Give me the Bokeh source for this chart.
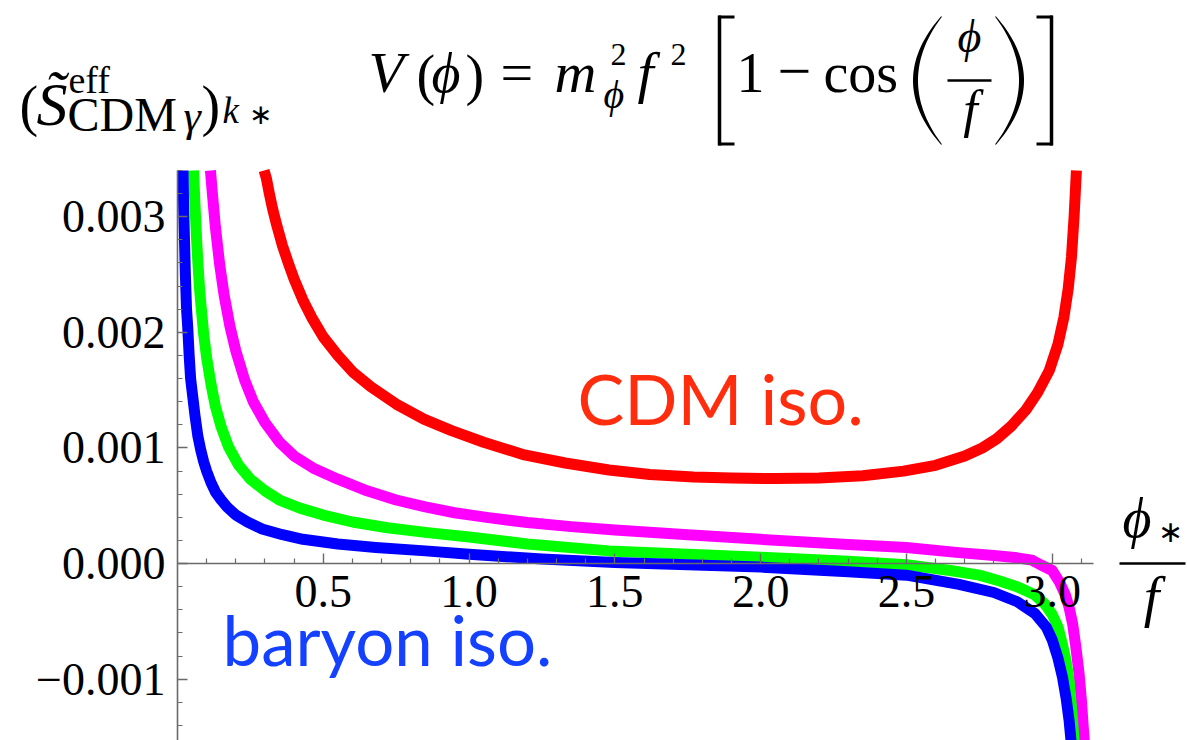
import numpy as np
from bokeh.plotting import figure
from bokeh.models import Range1d, FixedTicker, Label, Arrow, LinearAxis, PolyAnnotation
from bokeh.embed import file_html
from bokeh.resources import INLINE

# ---------------- data ----------------
red_x = [0.297, 0.305, 0.315, 0.326, 0.34, 0.36, 0.38, 0.40, 0.43, 0.46, 0.5, 0.55, 0.6, 0.663, 0.75, 0.845,
         0.94, 1.05, 1.19, 1.33, 1.48, 1.62, 1.77, 1.9, 2.05, 2.2, 2.35, 2.49, 2.6, 2.7, 2.76, 2.81, 2.86,
         2.91, 2.95, 2.99, 3.02, 3.04, 3.055, 3.066, 3.075, 3.083]
red_y = [0.0034, 0.00333, 0.0032, 0.00307, 0.00293, 0.00275, 0.0026, 0.00246, 0.00228, 0.00213, 0.00196,
         0.0018, 0.00166, 0.00153, 0.00138, 0.00125, 0.00115, 0.00105, 0.00094, 0.00087, 0.00081, 0.00077,
         0.00075, 0.00074, 0.000735, 0.00074, 0.00076, 0.0008, 0.00085, 0.00093, 0.001, 0.00108, 0.00119,
         0.00133, 0.00148, 0.00167, 0.0019, 0.00213, 0.00238, 0.00265, 0.003, 0.0034]

magenta_x = [0.113, 0.12, 0.13, 0.145, 0.16, 0.18, 0.2, 0.23, 0.26, 0.3, 0.35, 0.4, 0.47, 0.55, 0.65, 0.75,
             0.85, 0.95, 1.06, 1.2, 1.35, 1.5, 1.75, 2.0, 2.3, 2.5, 2.68, 2.8, 2.88, 2.93, 2.96, 3.0, 3.025,
             3.045, 3.058, 3.07, 3.081, 3.092, 3.1, 3.106, 3.112]
magenta_y = [0.0034, 0.00319, 0.00291, 0.00258, 0.00232, 0.00205, 0.00184, 0.00159, 0.0014, 0.00122,
             0.00105, 0.00093, 0.00082, 0.00073, 0.00063, 0.00055, 0.00049, 0.00044, 0.0004, 0.000355,
             0.00032, 0.00029, 0.00025, 0.00021, 0.000165, 0.00014, 0.000095, 0.00007, 0.00005, 0.00003,
             -0.00001, -0.00006, -0.00016, -0.00027, -0.00038, -0.00052, -0.00072, -0.00095, -0.00118,
             -0.0014, -0.0016]

green_x = [0.055, 0.06, 0.065, 0.07, 0.075, 0.08, 0.09, 0.1, 0.115, 0.13, 0.15, 0.175, 0.21, 0.25, 0.3,
           0.35, 0.42, 0.5, 0.6, 0.72, 0.85, 1.0, 1.2, 1.48, 1.75, 2.0, 2.3, 2.5, 2.65, 2.75, 2.82, 2.88,
           2.94, 2.975, 3.0, 3.02, 3.035, 3.048, 3.058, 3.068, 3.077]
green_y = [0.0034, 0.0031, 0.00283, 0.0026, 0.0024, 0.00225, 0.00198, 0.00178, 0.00155, 0.00136, 0.00118,
           0.00101, 0.00085, 0.00073, 0.00063, 0.00055, 0.00048, 0.00042, 0.00036, 0.00031, 0.00027,
           0.00023, 0.00017, 0.00011, 0.00008, 0.000055, 0.00002, -0.00001, -0.00006, -0.0001, -0.00015,
           -0.0002, -0.00027, -0.00035, -0.00044, -0.00055, -0.0007, -0.00085, -0.00102, -0.0013, -0.0016]

blue_x = [0.019, 0.021, 0.024, 0.027, 0.031, 0.035, 0.04, 0.045, 0.052, 0.06, 0.07, 0.08, 0.09, 0.1, 0.115,
          0.13, 0.15, 0.17, 0.2, 0.24, 0.29, 0.36, 0.43, 0.55, 0.68, 0.85, 1.0, 1.25, 1.5, 1.75, 2.0, 2.3,
          2.5, 2.68, 2.8, 2.88, 2.94, 2.98, 3.0, 3.02, 3.035, 3.048, 3.058, 3.067]
blue_y = [0.0034, 0.0031, 0.0028, 0.0025, 0.0022, 0.00205, 0.0018, 0.0016, 0.00145, 0.00128, 0.0011,
          0.00098, 0.00088, 0.0008, 0.0007, 0.00062, 0.00055, 0.00049, 0.00042, 0.00036, 0.0003, 0.00025,
          0.00021, 0.00017, 0.00014, 0.00011, 0.00008, 0.00004, 0.00001, -0.00001, -0.00003, -0.00007,
          -0.0001, -0.00018, -0.00025, -0.00033, -0.00043, -0.00055, -0.00066, -0.00082, -0.00098,
          -0.00117, -0.00136, -0.0016]

y_ticks = [-0.001, 0.0, 0.001, 0.002, 0.003]
y_tick_labels = ["\u22120.001", "0.000", "0.001", "0.002", "0.003"]
y_minor_ticks = [-0.0014, -0.0012, -0.0008, -0.0006, -0.0004, -0.0002, 0.0002, 0.0004, 0.0006, 0.0008,
                 0.0012, 0.0014, 0.0016, 0.0018, 0.0022, 0.0024, 0.0026, 0.0028, 0.0032, 0.0034]
x_ticks = [0.5, 1.0, 1.5, 2.0, 2.5, 3.0]
x_tick_labels = ["0.5", "1.0", "1.5", "2.0", "2.5", "3.0"]
x_minor_ticks = [0.1, 0.2, 0.3, 0.4, 0.6, 0.7, 0.8, 0.9, 1.1, 1.2, 1.3, 1.4, 1.6, 1.7, 1.8, 1.9,
                 2.1, 2.2, 2.3, 2.4, 2.6, 2.7, 2.8, 2.9, 3.1]

series = [("red", red_x, red_y, "#ff0000"),
          ("magenta", magenta_x, magenta_y, "#ff00ff"),
          ("green", green_x, green_y, "#00ff00"),
          ("blue", blue_x, blue_y, "#0000ff")]

Y_TOP, Y_BOT = 0.0034, -0.00153      # plotted data window
X_LEFT, X_RIGHT = 0.0, np.pi

# ---------------- geometry (canvas pixels) ----------------
W, H = 1187, 740
PX_L, PX_R = 177, 1093                # canvas x of x=0 and x=pi
PX_T = 170                            # canvas y of Y_TOP (bottom of canvas = Y_BOT)
sx_per = (PX_R - PX_L) / (X_RIGHT - X_LEFT)
sy_per = (H - PX_T) / (Y_TOP - Y_BOT)
xr = Range1d(X_LEFT - PX_L / sx_per, X_RIGHT + (W - PX_R) / sx_per)
yr = Range1d(Y_BOT, Y_TOP + PX_T / sy_per)

p = figure(width=W, height=H, x_range=xr, y_range=yr,
           output_backend="svg", toolbar_location=None,
           x_axis_location=None, y_axis_location=None,
           min_border=0, min_border_left=0, min_border_right=0, min_border_top=0, min_border_bottom=0)
p.outline_line_color = None
p.grid.visible = False
p.background_fill_color = "white"
p.border_fill_color = "white"

for name, xs, ys, col in series:
    p.line(xs, ys, line_color=col, line_width=11, line_join="round", line_cap="butt")

AX = "#6a6a6a"
FONT = "Liberation Serif"

yax = LinearAxis(ticker=FixedTicker(ticks=y_ticks, minor_ticks=y_minor_ticks),
                 major_label_overrides=dict(zip(y_ticks, y_tick_labels)),
                 fixed_location=0, bounds=(Y_BOT, Y_TOP))
xax = LinearAxis(ticker=FixedTicker(ticks=x_ticks, minor_ticks=x_minor_ticks),
                 major_label_overrides=dict(zip(x_ticks, x_tick_labels)),
                 fixed_location=0, bounds=(X_LEFT, X_RIGHT))
for ax in (yax, xax):
    ax.axis_line_color = AX
    ax.axis_line_width = 1.6
    ax.major_tick_line_color = AX
    ax.minor_tick_line_color = AX
    ax.major_tick_line_width = 1.4
    ax.minor_tick_line_width = 1.2
    ax.major_tick_in = 10
    ax.major_tick_out = 0
    ax.minor_tick_in = 5
    ax.minor_tick_out = 0
    ax.major_label_text_font = FONT
    ax.major_label_text_font_size = "46px"
    ax.major_label_text_color = "black"
    ax.major_label_standoff = 12
p.add_layout(yax, "left")
p.add_layout(xax, "below")

BASE_FIX = 0.40   # empirical: Label 'alphabetic' baseline offset (fraction of font size)


def put(text, X, Y, size, style="normal", font=FONT, color="black", align="left"):
    p.add_layout(Label(x=X, y=H - (Y - BASE_FIX * size), x_units="screen", y_units="screen", text=text,
                       text_font=font, text_font_size=f"{size}px", text_font_style=style,
                       text_color=color, text_align=align, text_baseline="alphabetic"))


def seg(X0, Y0, X1, Y1, w=2.5):
    p.add_layout(Arrow(x_start=X0, y_start=H - Y0, x_end=X1, y_end=H - Y1,
                       start_units="screen", end_units="screen", end=None,
                       line_width=w, line_color="black"))


def big_paren(x_end, x_bulge, y_top, y_bot, w=5.0):
    """thin, tall delimiter (as in the typeset formula) drawn as a tapered crescent"""
    t = np.linspace(-1.0, 1.0, 41)
    yc, hh = (y_top + y_bot) / 2.0, (y_bot - y_top) / 2.0
    xc = x_end + (x_bulge - x_end) * (1.0 - t ** 2)
    th = 1.2 + (w - 1.2) * (1.0 - t ** 2)
    xs = list(xc - th / 2.0) + list((xc + th / 2.0)[::-1])
    ys = list(H - (yc + hh * t)) + list((H - (yc + hh * t))[::-1])
    p.add_layout(PolyAnnotation(xs=xs, ys=ys, xs_units="screen", ys_units="screen",
                                fill_color="black", fill_alpha=1.0, line_color=None))


# ---- title: V(phi) = m_phi^2 f^2 [1 - cos(phi/f)] ----
put("V", 368, 95, 58, "italic")
put("(", 416, 97, 56)
put("\u03d5", 431, 95, 56, "italic")
put(")", 465, 97, 56)
put("=", 500, 95, 58)
put("m", 554, 95, 58, "italic")
put("\u03d5", 603, 110, 40, "italic")
put("2", 610, 67, 32)
put("f", 637, 95, 58, "italic")
put("2", 670, 67, 32)
seg(719, 15, 719, 145, 3.5)
seg(718, 16.5, 734, 16.5, 3)
seg(718, 143.5, 734, 143.5, 3)
put("1", 736, 95, 56)
put("\u2212", 777, 95, 60)
put("cos", 823, 95, 56)
big_paren(941, 915, 16, 144)
put("\u03d5", 969, 54, 46, "italic", align="center")
seg(947, 80, 991, 80, 2.5)
put("f", 970, 130, 52, "italic", align="center")
big_paren(995, 1021, 16, 144)
seg(1051, 15, 1051, 145, 3.5)
seg(1036, 16.5, 1052, 16.5, 3)
seg(1036, 143.5, 1052, 143.5, 3)

# ---- y label: (S~ eff_CDMgamma)_k* ----
put("(", 19, 128, 56)
put("S\u0303", 36, 128, 62, "italic")
put("eff", 68, 95, 38)
put("CDM", 67, 133, 48)
put("\u03b3", 183, 134, 44, "italic")
put(")", 201, 128, 56)
put("k", 222, 125, 37, "italic")
put("\u2217", 248, 125, 28)

# ---- x label: phi_* / f ----
put("\u03d5", 1122, 540, 56, "italic")
put("\u2217", 1157, 543, 30)
seg(1119, 563, 1185, 563, 2.5)
put("f", 1151, 619, 56, "italic", align="center")

# ---- annotations ----
put("CDM iso.", 577, 425, 70, font="Lato", color="#ff2d0d")
put("baryon iso.", 222, 667, 69, font="Lato", color="#1440ff")

open("out.html", "w").write(file_html(p, INLINE))
